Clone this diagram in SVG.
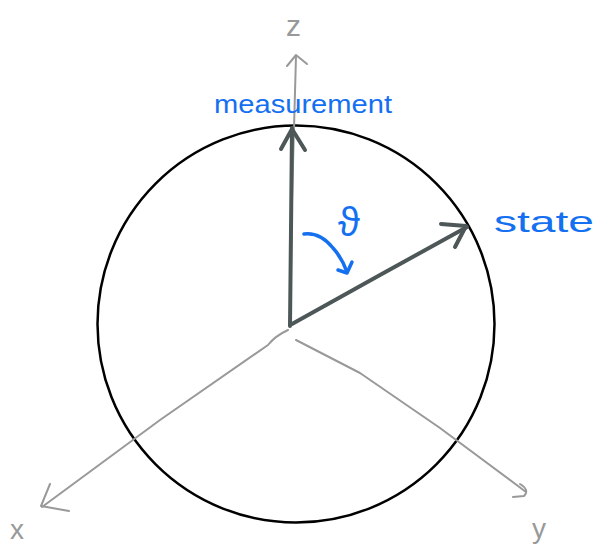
<svg xmlns="http://www.w3.org/2000/svg" width="599" height="544" viewBox="0 0 599 544">
<style>
.ax{fill:none;stroke:#999;stroke-width:2;stroke-linecap:round;stroke-linejoin:round}
.vec{fill:none;stroke:#4d5757;stroke-width:4;stroke-linecap:round;stroke-linejoin:round}
.bl{fill:none;stroke:#1470f0;stroke-width:3.5;stroke-linecap:round;stroke-linejoin:round}
.lab{font-family:"Liberation Sans",Arial,sans-serif;fill:#999}
.bt{font-family:"Liberation Sans",Arial,sans-serif;fill:#1470f0}
</style>
<rect width="599" height="544" fill="#fff"/>
<g id="sphere"><circle cx="296" cy="324" r="198.5" fill="none" stroke="#000" stroke-width="2.5"/></g>
<g id="connectors">
<g id="z-axis"><path class="ax" d="M290 326 L292 200 L296 56"/><path class="ax" d="M287 66 L296 55 L307 64"/></g>
<g id="x-axis"><path class="ax" d="M288 330 Q275 336 268 345 L160 420 L42 507"/><path class="ax" d="M50 484 L41 506 L69 511"/></g>
<g id="y-axis"><path class="ax" d="M296 340 L360 373 L440 428 L526 492"/><path class="ax" d="M520 484 Q530 490 524 496 L513 497"/></g>
<g id="measurement-vec"><path class="vec" d="M290 326 L291 230 L292 128"/><path class="vec" d="M281 149 L292 129 L305 150"/></g>
<g id="state-vec"><path class="vec" d="M292 324 L380 275 L467 227"/><path class="vec" d="M441 224 L466 226 L455 247"/></g>
<g id="theta-arrow"><path class="bl" d="M304 234 Q320 232 333 248 Q342 258 347 272"/><path class="bl" d="M338 270 L347 273 L352 262"/></g>
</g>
<g id="labels">
<text class="lab" x="286" y="36" font-size="30">z</text>
<text class="lab" x="10" y="539" font-size="28">x</text>
<text class="lab" x="532" y="538" font-size="28">y</text>
<text class="bt" x="214" y="113" font-size="26" textLength="178" lengthAdjust="spacingAndGlyphs">measurement</text>
<text class="bt" x="494" y="232" font-size="30" textLength="100" lengthAdjust="spacingAndGlyphs">state</text>
<text class="bt" x="338" y="236" font-size="40">ϑ</text>
</g>
</svg>
